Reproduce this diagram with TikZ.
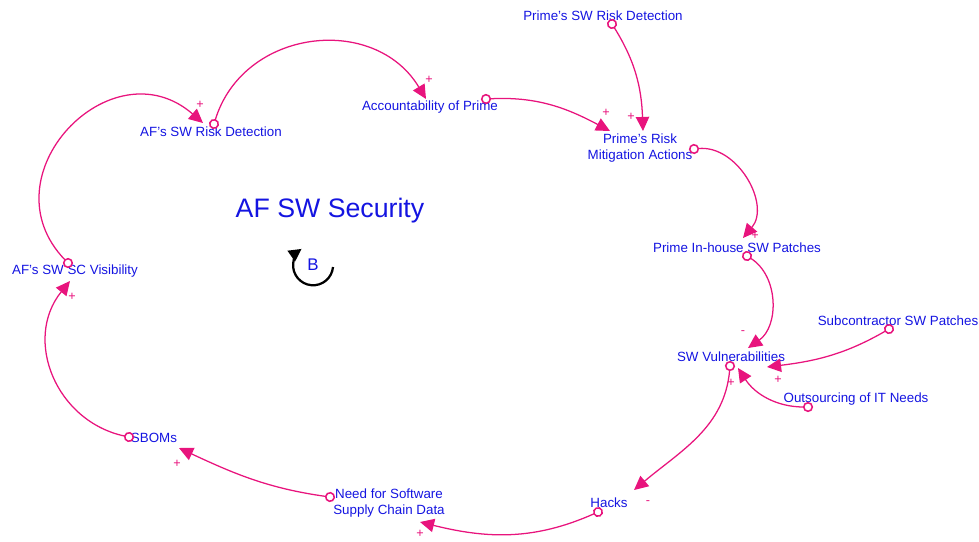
\documentclass[tikz,border=0pt]{standalone}
\usepackage{fontspec}
\setmainfont{Liberation Sans}
\usetikzlibrary{arrows.meta,calc}
\definecolor{linkpink}{RGB}{232,20,125}
\definecolor{varblue}{RGB}{20,20,225}

\begin{document}
\begin{tikzpicture}[x=0.025cm,y=0.025cm]
    \tikzstyle{var}=[text=varblue,font=\fontsize{9.5}{12}\selectfont,inner sep=0pt,align=center]
    \tikzstyle{link}=[draw=linkpink,line width=0.9pt,{Circle[fill=white,length=7.2pt,line width=1.1pt,sep=-3.6pt]}-{Triangle[length=10pt,width=9.5pt]}]
    \tikzstyle{sign}=[text=linkpink,font=\fontsize{9}{9}\selectfont,inner sep=0pt]
    \useasboundingbox (0,0) rectangle (979,-541);

    \node (title)[text=varblue,font=\fontsize{19}{22}\selectfont] at (330,-211) {AF SW Security};
    \node (bloop)[text=varblue,font=\fontsize{12}{12}\selectfont] at (313,-265) {B};

    \node (afVis)[var] at (75,-271) {AF's SW SC Visibility};
    \node (afDet)[var] at (211,-132) {AF's SW Risk Detection};
    \node (accPrime)[var] at (430,-107) {Accountability of Prime};
    \node (primeDet)[var] at (603,-16) {Prime's SW Risk Detection};
    \node (primeMit)[var] at (640,-148) {Prime's Risk\\Mitigation Actions};
    \node (inhouse)[var] at (737,-248) {Prime In-house SW Patches};
    \node (subPatch)[var] at (898,-321) {Subcontractor SW Patches};
    \node (swVuln)[var] at (731,-357) {SW Vulnerabilities};
    \node (outsrc)[var] at (856,-399) {Outsourcing of IT Needs};
    \node (hacks)[var] at (609,-503) {Hacks};
    \node (needSW)[var] at (389,-503) {Need for Software\\Supply Chain Data};
    \node (sboms)[var] at (154,-438) {SBOMs};

    % causal links
    \draw[link] ($(afVis)+(-7,8)$) to[out=134,in=139,looseness=1.6] node[sign,at end,shift={(-3,18)}] {+} ($(afDet)+(-8,9)$);
    \draw[link] ($(afDet)+(3,8)$) to[out=73,in=121,looseness=1.2] node[sign,at end,shift={(3,19)}] {+} ($(accPrime)+(-4,8)$);
    \draw[link] ($(accPrime)+(56,8)$) to[out=3,in=152] node[sign,at end,shift={(-4,18)}] {+} ($(primeMit)+(-30,17)$);
    \draw[link] ($(primeDet)+(9,-8)$) to[out=-58,in=92] node[sign,at end,shift={(-12,14)}] {+} ($(primeMit)+(3,17)$);
    \draw[link] ($(primeMit)+(54,-1)$) to[out=6,in=50,looseness=1.1] node[sign,at end,shift={(12,2)}] {+} ($(inhouse)+(6,10)$);
    \draw[link] ($(inhouse)+(10,-8)$) to[out=-32,in=35,looseness=1.05] node[sign,at end,shift={(-5,15)}] {-} ($(swVuln)+(17,9)$);
    \draw[link] ($(subPatch)+(-9,-8)$) to[out=210,in=7] node[sign,at end,shift={(11,-13)}] {+} ($(swVuln)+(36,-10)$);
    \draw[link] ($(outsrc)+(-48,-8)$) to[out=180,in=-57] node[sign,at end,shift={(-7,-15)}] {+} ($(swVuln)+(7,-11)$);
    \draw[link] ($(swVuln)+(-1,-9)$) to[out=-95,in=40] node[sign,at end,shift={(14,-13)}] {-} ($(hacks)+(25,13)$);
    \draw[link] ($(hacks)+(-11,-9)$) to[out=-156,in=-14] node[sign,at end,shift={(0,-12)}] {+} ($(needSW)+(31,-19)$);
    \draw[link] ($(needSW)+(-59,6)$) to[out=172,in=-25] node[sign,at end,shift={(-2,-16)}] {+} ($(sboms)+(25,-10)$);
    \draw[link] ($(sboms)+(-25,1)$) to[out=168,in=-129,looseness=1.15] node[sign,at end,shift={(2,-16)}] {+} ($(afVis)+(-5,-10)$);

    % loop marker
    \draw[line width=1.6pt,-{Triangle[length=9pt,width=9pt]}] ($(bloop)+(20,-2)$) arc[start angle=-5,end angle=-235,radius=20];
\end{tikzpicture}
\end{document}
